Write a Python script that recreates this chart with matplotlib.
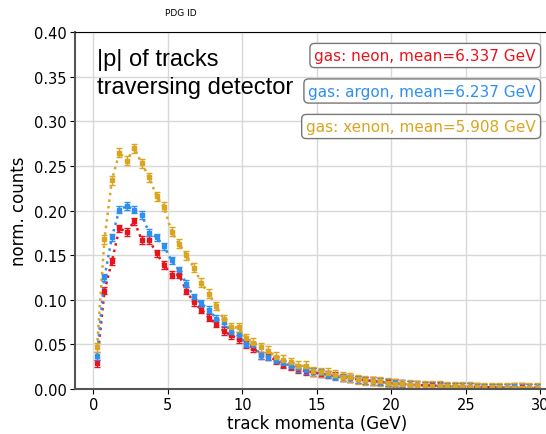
import numpy as np
from matplotlib import pyplot as plt

# bin centres of the momentum histogram (GeV)
momenta = np.arange(0.25, 30.0, 0.5)

neon = [0.029, 0.110, 0.143, 0.180, 0.176, 0.188, 0.167, 0.167, 0.152, 0.139,
        0.128, 0.128, 0.110, 0.097, 0.089, 0.080, 0.073, 0.065, 0.060, 0.056,
        0.050, 0.046, 0.038, 0.037, 0.032, 0.027, 0.025,
        0.022, 0.020, 0.019, 0.017, 0.016, 0.015, 0.013, 0.012, 0.011, 0.010,
        0.009, 0.008, 0.0075, 0.007, 0.006, 0.005, 0.0045, 0.004, 0.004, 0.0035,
        0.003, 0.003, 0.0028, 0.0025, 0.0022, 0.002, 0.002, 0.0018, 0.0017, 0.0025,
        0.0028, 0.0015, 0.0012]
argon = [0.037, 0.125, 0.170, 0.201, 0.205, 0.201, 0.195, 0.175, 0.170, 0.160,
         0.144, 0.133, 0.118, 0.103, 0.096, 0.089, 0.079, 0.075, 0.064, 0.060,
         0.051, 0.049, 0.038, 0.036, 0.033, 0.029,
         0.026, 0.023, 0.021, 0.019, 0.018, 0.016, 0.014, 0.013, 0.012, 0.011,
         0.010, 0.009, 0.008, 0.007, 0.0065, 0.006, 0.005, 0.0045, 0.004, 0.0035,
         0.003, 0.003, 0.0028, 0.0025, 0.0022, 0.002, 0.002, 0.0018, 0.0017, 0.0016,
         0.002, 0.0015, 0.0013, 0.0012]
xenon = [0.047, 0.168, 0.234, 0.265, 0.256, 0.270, 0.253, 0.237, 0.216, 0.204,
         0.176, 0.163, 0.150, 0.136, 0.119, 0.107, 0.093, 0.078, 0.069, 0.069,
         0.057, 0.052, 0.047, 0.043, 0.036, 0.033,
         0.030, 0.026, 0.026, 0.020, 0.019, 0.018, 0.016, 0.014, 0.013, 0.011,
         0.010, 0.009, 0.0085, 0.007, 0.006, 0.0055, 0.005, 0.0045, 0.004, 0.0035,
         0.0035, 0.003, 0.003, 0.0027, 0.0025, 0.0022, 0.002, 0.002, 0.0018, 0.0017,
         0.0016, 0.0015, 0.0014, 0.0012]

neon_err = 0.004
argon_err = 0.004
xenon_err = 0.005

labels = ['gas: neon, mean=6.337 GeV',
          'gas: argon, mean=6.237 GeV',
          'gas: xenon, mean=5.908 GeV']
colors = ['#e8141c', '#2f8ff0', '#daa520']

fig = plt.figure(figsize=(5.46, 4.35), dpi=100)
ax = fig.add_axes([0.1374, 0.1034, 0.8856, 0.8207])

for vals, err, c in zip([neon, argon, xenon], [neon_err, argon_err, xenon_err], colors):
    ax.plot(momenta, vals, linestyle=':', color=c, linewidth=1.8)
    ax.errorbar(momenta, vals, yerr=err, fmt='s', color=c, markersize=3.2,
                capsize=2, elinewidth=1, linestyle='none')

ax.set_xlim(-1.225, 31.225)
ax.set_ylim(0, 0.4)
ax.set_xticks([0, 5, 10, 15, 20, 25, 30])
ax.set_yticks(np.arange(0, 0.41, 0.05))
ax.yaxis.set_major_formatter(plt.FormatStrFormatter('%.2f'))
ax.tick_params(labelsize=10.5, pad=2.5)
ax.grid(True, color='#d8d8d8', linewidth=1)
ax.set_axisbelow(True)
for s in ['left', 'bottom']:
    ax.spines[s].set_color('#555555')
    ax.spines[s].set_linewidth(1.5)
ax.set_xlabel('track momenta (GeV)', fontsize=12, labelpad=1)
ax.set_ylabel('norm. counts', fontsize=12)

fig.text(181 / 546, 1 - 13 / 435, 'PDG ID', fontsize=6.5, ha='center', va='center')
fig.text(97 / 546, 1 - 74 / 435, '|p| of tracks\ntraversing detector',
         fontsize=17, family='Liberation Sans', ha='left', va='center',
         linespacing=1.4)

for i, (lab, c) in enumerate(zip(labels, colors)):
    fig.text(536 / 546, 1 - (56.5 + 35.5 * i) / 435, lab, color=c, fontsize=11,
             ha='right', va='center',
             bbox=dict(boxstyle='round,pad=0.3', facecolor='white', edgecolor='#777777'))

fig.savefig('out.png', dpi=100)
